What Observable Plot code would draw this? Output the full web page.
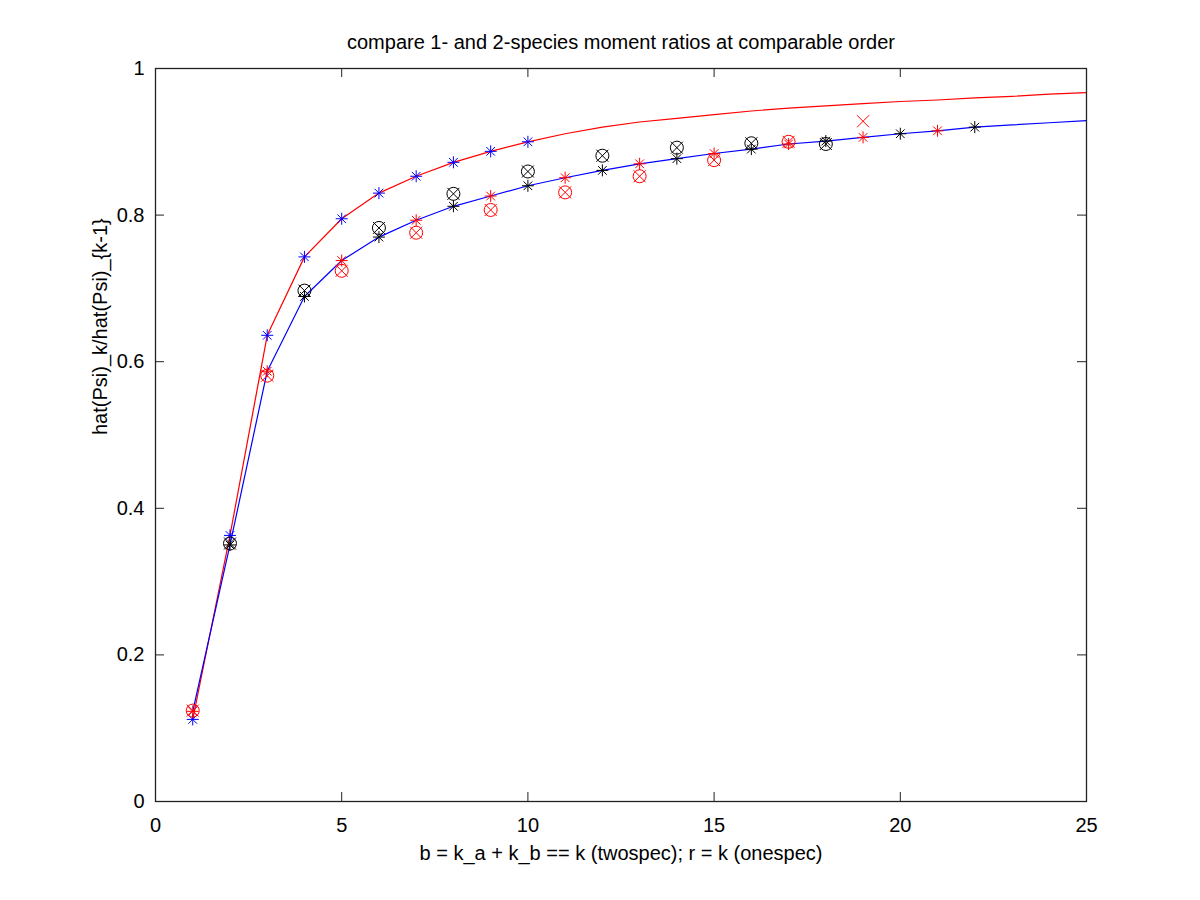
<!DOCTYPE html>
<html>
<head>
<meta charset="utf-8">
<script src="https://cdn.jsdelivr.net/npm/d3@7"></script>
<script src="https://cdn.jsdelivr.net/npm/@observablehq/plot@0.6"></script>
<style>
  html, body { margin: 0; padding: 0; background: #fff; }
  #chart svg { display: block; }
</style>
</head>
<body>
<div id="chart"></div>
<script>
// ---- data ----
const kValues = d3.range(1, 26);                       // 1..25
// one-species ratio (red curve, blue asterisks at 1..10)
const oneSpecLine = [0.112, 0.363, 0.636, 0.743, 0.795, 0.830, 0.853, 0.872, 0.887, 0.900,
                     0.911, 0.920, 0.927, 0.932, 0.937, 0.942, 0.946, 0.949, 0.952, 0.955,
                     0.957, 0.960, 0.962, 0.965, 0.967];
const oneSpecStarK = d3.range(1, 11);                  // 1..10
// two-species ratio (blue curve, asterisks at 1..22)
const twoSpecLine = [0.123, 0.350, 0.587, 0.689, 0.738, 0.770, 0.793, 0.812, 0.826, 0.840,
                     0.851, 0.861, 0.870, 0.877, 0.884, 0.890, 0.897, 0.901, 0.906, 0.911,
                     0.915, 0.920, 0.923, 0.926, 0.929];
const twoSpecStarK = d3.range(1, 23);                  // 1..22
// circle markers (1..18) and x markers (1..19)
const circleK = d3.range(1, 19);
const circleVals = [0.124, 0.352, 0.581, 0.697, 0.724, 0.7825, 0.776, 0.829, 0.807, 0.8595,
                    0.831, 0.881, 0.853, 0.892, 0.875, 0.898, 0.900, 0.897];
const crossK = d3.range(1, 20);
const crossVals = [0.124, 0.352, 0.581, 0.697, 0.724, 0.7825, 0.776, 0.829, 0.807, 0.8595,
                   0.831, 0.881, 0.853, 0.892, 0.875, 0.898, 0.900, 0.897, 0.928];

const xTicks = [0, 5, 10, 15, 20, 25];
const yTicks = [0, 0.2, 0.4, 0.6, 0.8, 1];

const titleText = "compare 1- and 2-species moment ratios at comparable order";
const xLabel = "b = k_a + k_b == k (twospec); r = k (onespec)";
const yLabel = "hat(Psi)_k/hat(Psi)_{k-1}";

// ---- tables ----
const oneLine = kValues.map((k, i) => ({k, v: oneSpecLine[i]}));
const twoLine = kValues.map((k, i) => ({k, v: twoSpecLine[i]}));
const oneStars = oneSpecStarK.map(k => ({k, v: oneSpecLine[k - 1]}));
const twoStars = twoSpecStarK.map(k => ({k, v: twoSpecLine[k - 1], c: k % 2 ? "red" : "black"}));
const circles = circleK.map((k, i) => ({k, v: circleVals[i], c: k % 2 ? "red" : "black"}));
const crosses = crossK.map((k, i) => ({k, v: crossVals[i], c: k % 2 ? "red" : "black"}));

// ---- custom symbols ----
const star = {draw(ctx, size) {
  const r = Math.sqrt(size / Math.PI), d = r * 0.72;
  ctx.moveTo(-r, 0); ctx.lineTo(r, 0);
  ctx.moveTo(0, -r); ctx.lineTo(0, r);
  ctx.moveTo(-d, -d); ctx.lineTo(d, d);
  ctx.moveTo(-d, d); ctx.lineTo(d, -d);
}};
const cross = {draw(ctx, size) {
  const r = Math.sqrt(size / Math.PI);
  ctx.moveTo(-r, -r); ctx.lineTo(r, r);
  ctx.moveTo(-r, r); ctx.lineTo(r, -r);
}};

// ---- layout ----
const W = 1200, H = 900, mL = 155, mR = 114, mT = 68, mB = 99;
const innerW = W - mL - mR, innerH = H - mT - mB;
const tickLen = 9;
const font = "'Liberation Sans', Arial, Helvetica, sans-serif";
const fs = 20;

const chart = Plot.plot({
  width: W, height: H,
  marginLeft: mL, marginRight: mR, marginTop: mT, marginBottom: mB,
  style: {fontFamily: font, fontSize: fs + "px", color: "#000", background: "#fff"},
  x: {domain: [0, 25], ticks: xTicks, label: null},
  y: {domain: [0, 1], ticks: yTicks, label: null},
  marks: [
    Plot.axisX(xTicks, {tickSize: 0, tickPadding: 16, fontSize: fs, label: null, tickFormat: d => String(d)}),
    Plot.axisY(yTicks, {tickSize: 0, tickPadding: 11, fontSize: fs, label: null, tickFormat: d => String(d)}),
    // inward ticks on all four sides
    Plot.tickX(xTicks, {x: d => d, insetTop: innerH - tickLen, stroke: "#222"}),
    Plot.tickX(xTicks, {x: d => d, insetBottom: innerH - tickLen, stroke: "#222"}),
    Plot.tickY(yTicks, {y: d => d, insetRight: innerW - tickLen, stroke: "#222"}),
    Plot.tickY(yTicks, {y: d => d, insetLeft: innerW - tickLen, stroke: "#222"}),
    // curves
    Plot.line(oneLine, {x: "k", y: "v", stroke: "red", strokeWidth: 1.2}),
    Plot.line(twoLine, {x: "k", y: "v", stroke: "blue", strokeWidth: 1.2}),
    // markers
    Plot.dot(oneStars, {x: "k", y: "v", symbol: star, r: 6, stroke: "blue", fill: "none", strokeWidth: 1}),
    Plot.dot(twoStars, {x: "k", y: "v", symbol: star, r: 6, stroke: "c", fill: "none", strokeWidth: 1}),
    Plot.dot(circles, {x: "k", y: "v", symbol: "circle", r: 6.5, stroke: "c", fill: "none", strokeWidth: 1}),
    Plot.dot(crosses, {x: "k", y: "v", symbol: cross, r: 6, stroke: "c", fill: "none", strokeWidth: 1}),
    Plot.frame({stroke: "#222", strokeWidth: 1.3}),
    // texts
    Plot.text([titleText], {text: d => d, frameAnchor: "top", lineAnchor: "middle", dy: -26, fontSize: fs, fill: "black"}),
    Plot.text([xLabel], {text: d => d, frameAnchor: "bottom", lineAnchor: "middle", dy: 52, fontSize: fs, fill: "black"}),
    Plot.text([yLabel], {text: d => d, frameAnchor: "left", lineAnchor: "middle", dx: -55, rotate: -90, fontSize: fs, fill: "black"})
  ]
});
chart.querySelectorAll("svg").forEach(s => s.style.overflow = "visible");
document.getElementById("chart").append(chart);
</script>
</body>
</html>
